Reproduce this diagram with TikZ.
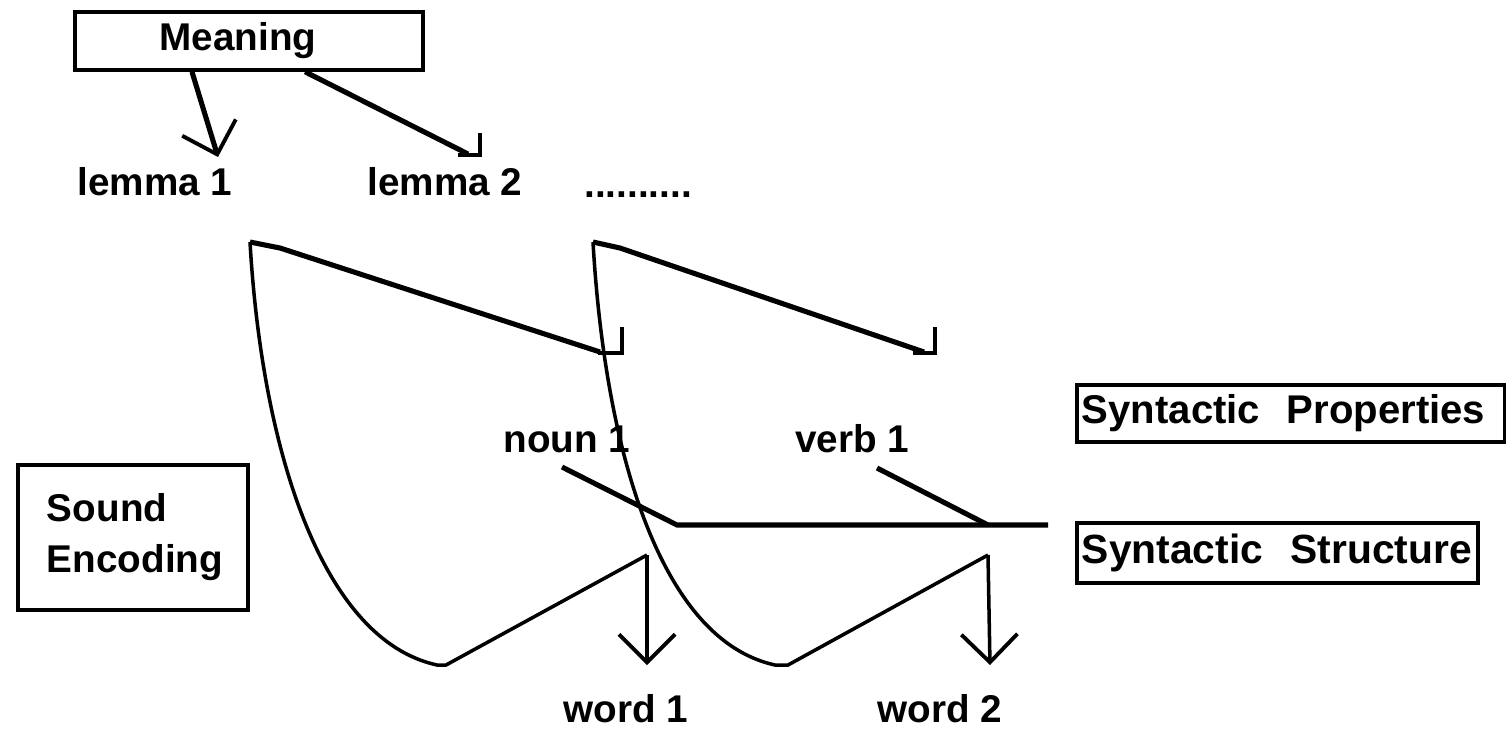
\documentclass[tikz,border=0pt]{standalone}
\usepackage{fontspec}
\setmainfont{Liberation Sans}
\usetikzlibrary{arrows.meta}
\begin{document}
\begin{tikzpicture}[x=0.01cm,y=-0.01cm,
  lbl/.style={font=\fontsize{11}{13}\selectfont\bfseries, inner sep=0pt, anchor=base},
  boxnode/.style={draw, line width=1pt, inner ysep=0pt, font=\fontsize{11}{14.5}\selectfont\bfseries},
  vtip/.style={-{Straight Barb[length=2.8mm,width=5.6mm,line width=1.1pt]}},
  thickline/.style={line width=1.45pt, line join=miter},
  curveline/.style={line width=1pt},
  hookline/.style={line width=1.3pt, line join=miter},
]
\useasboundingbox (0,0) rectangle (1506,739);

% boxes
\node[boxnode, minimum width=3.48cm, minimum height=0.58cm, inner xsep=0pt] (meaning) at (249,41) {Meaning\hspace*{0.22cm}};
\node[boxnode, minimum height=1.45cm, inner xsep=0.29cm, text width=1.72cm, align=left] (sound) at (133,537.5) {Sound\\Encoding};
\node[boxnode, minimum height=0.57cm, inner xsep=0.05cm, text width=4.18cm, align=left, font=\fontsize{11.4}{13}\selectfont\bfseries] (synprop) at (1291,413.5) {Syntactic\ \ Properties};
\node[boxnode, minimum height=0.60cm, inner xsep=0.05cm, text width=3.91cm, align=left, font=\fontsize{11.6}{13}\selectfont\bfseries] (synstruct) at (1277.5,553) {Syntactic\ \ Structure};

% labels
\node[lbl] (lemma1) at (155,195) {lemma 1};
\node[lbl] (lemma2) at (445,195) {lemma 2};
\node[lbl] (dots) at (638,197) {..........};
\node[lbl] (noun1) at (567,452) {noun 1};
\node[lbl] (verb1) at (852,452) {verb 1};
\node[lbl] (word1) at (626,722) {word 1};
\node[lbl] (word2) at (940,722) {word 2};

% coordinates
\coordinate (l1tip) at (218,157);
\coordinate (l2end) at (468,154);
\coordinate (l2hook) at (480,155);
\coordinate (c1) at (250,242);
\coordinate (c1t) at (280,248);
\coordinate (n1end) at (600,352);
\coordinate (n1hook) at (622,353);
\coordinate (c2) at (593,242);
\coordinate (c2t) at (620,248);
\coordinate (v1end) at (924,352);
\coordinate (v1hook) at (935,353);
\coordinate (b1a) at (437,665);
\coordinate (b1b) at (446,665);
\coordinate (w1top) at (647,555);
\coordinate (w1tip) at (647,665);
\coordinate (b2a) at (775,665);
\coordinate (b2b) at (788,665);
\coordinate (w2top) at (988,555);
\coordinate (w2tip) at (990,665);
\coordinate (ns) at (562,467);
\coordinate (nelbow) at (677,525);
\coordinate (hend) at (1048,525);
\coordinate (vs) at (877,468);
\coordinate (vj) at (988,525);

% meaning -> lemmas
\draw[thickline, vtip] ([xshift=-0.57cm]meaning.south) -- (l1tip);
\draw[thickline] ([xshift=0.56cm]meaning.south) -- (l2end);
\draw[hookline] (l2hook) ++(-22,0) -- (l2hook) -- ++(0,-22);

% lemma 1 structure
\draw[thickline] (c1) -- (c1t) -- (n1end);
\draw[hookline] (n1hook) ++(-24,0) -- (n1hook) -- ++(0,-26);
\draw[curveline] (c1) .. controls (262,450) and (322,640) .. (b1a) -- (b1b) -- (w1top);
\draw[curveline, vtip] (w1top) -- (w1tip);

% lemma 2 structure
\draw[thickline] (c2) -- (c2t) -- (v1end);
\draw[hookline] (v1hook) ++(-22,0) -- (v1hook) -- ++(0,-26);
\draw[curveline] (c2) .. controls (605,450) and (660,640) .. (b2a) -- (b2b) -- (w2top);
\draw[curveline, vtip] (w2top) -- (w2tip);

% syntactic structure lines
\draw[thickline] (ns) -- (nelbow) -- (hend);
\draw[thickline] (vs) -- (vj);
\end{tikzpicture}
\end{document}
